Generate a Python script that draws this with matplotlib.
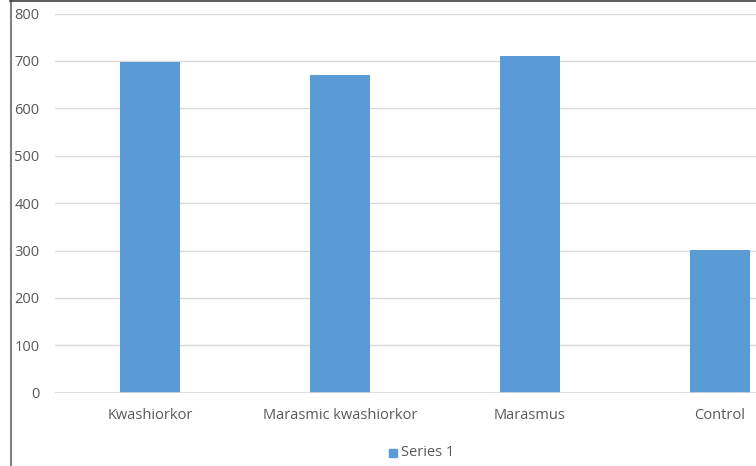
import numpy as np
import matplotlib.pyplot as plt
from matplotlib.patches import Rectangle

categories = ['Kwashiorkor', 'Marasmic kwashiorkor', 'Marasmus', 'Control']
values = [697, 670, 710, 302]
yticks = [0, 100, 200, 300, 400, 500, 600, 700, 800]

W, H = 756, 466
fig = plt.figure(figsize=(W / 100, H / 100), dpi=100)
plt.rcParams['font.family'] = ['Open Sans', 'DejaVu Sans']

# plot area in pixels: x 55..815 (cropped at right), y 13.5..392.7
left, right = 55, 815
top, bottom = 13.5, 392.7
ax = fig.add_axes([left / W, 1 - bottom / H, (right - left) / W, (bottom - top) / H])

bar_color = '#5B9BD5'
x = np.arange(len(categories))
ax.bar(x, values, width=0.316, color=bar_color, zorder=3)

ax.set_xlim(-0.5, len(categories) - 0.5)
ax.set_ylim(0, 800)
ax.set_yticks(yticks)
ax.set_xticks(x)
ax.set_xticklabels(categories)
ax.grid(axis='y', color='#D9D9D9', linewidth=1, zorder=0)
ax.axhline(0, color='#D9D9D9', linewidth=1.2, zorder=4)
for s in ax.spines.values():
    s.set_visible(False)
ax.tick_params(axis='both', length=0, labelsize=10.5, labelcolor='#595959')
ax.tick_params(axis='y', pad=11)
ax.tick_params(axis='x', pad=11)

# legend
fig.patches.append(Rectangle((389 / W, 1 - 457 / H), 8 / W, 8 / H,
                             transform=fig.transFigure, color=bar_color))
fig.text(401 / W, 1 - 452 / H, 'Series 1', fontsize=10.5, color='#595959',
         va='center', ha='left')

# chart border (cropped)
fig.add_artist(plt.Line2D([10.5 / W, 10.5 / W], [0, 1], transform=fig.transFigure,
                          color='#808080', linewidth=1.5))
fig.add_artist(plt.Line2D([10 / W, 1], [1 - 0.5 / H, 1 - 0.5 / H], transform=fig.transFigure,
                          color='#404040', linewidth=1.2))

fig.savefig('out.png', dpi=100)
